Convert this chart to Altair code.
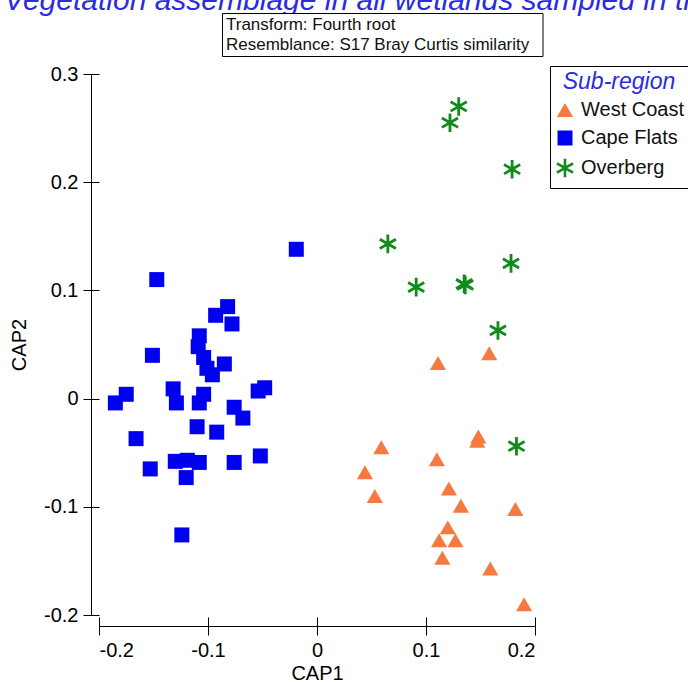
import altair as alt
import pandas as pd

# CAP ordination scores per sub-region
west_coast_cap1 = [0.158, 0.111, 0.148, 0.147, 0.059, 0.110, 0.044, 0.121, 0.053,
                   0.132, 0.182, 0.120, 0.112, 0.127, 0.115, 0.159, 0.190]
west_coast_cap2 = [0.042, 0.033, -0.035, -0.039, -0.045, -0.056, -0.068, -0.083, -0.090,
                   -0.099, -0.102, -0.119, -0.131, -0.131, -0.147, -0.157, -0.190]

cape_flats_cap1 = [-0.019, -0.147, -0.082, -0.093, -0.078, -0.108, -0.109, -0.151, -0.104,
                   -0.085, -0.101, -0.096, -0.132, -0.175, -0.104, -0.048, -0.054, -0.185,
                   -0.129, -0.108, -0.076, -0.068, -0.110, -0.092, -0.166, -0.052, -0.130,
                   -0.119, -0.108, -0.076, -0.153, -0.120, -0.124]
cape_flats_cap2 = [0.138, 0.110, 0.085, 0.077, 0.069, 0.058, 0.048, 0.040, 0.038,
                   0.032, 0.028, 0.022, 0.009, 0.004, 0.004, 0.010, 0.007, -0.004,
                   -0.004, -0.004, -0.008, -0.018, -0.026, -0.031, -0.037, -0.053, -0.058,
                   -0.057, -0.059, -0.059, -0.065, -0.073, -0.126]

overberg_cap1 = [0.130, 0.122, 0.179, 0.065, 0.178, 0.091, 0.135, 0.136, 0.166, 0.183]
overberg_cap2 = [0.270, 0.255, 0.212, 0.143, 0.125, 0.103, 0.106, 0.105, 0.063, -0.044]

groups = ["West Coast", "Cape Flats", "Overberg"]
fills = ["#F57A40", "#0000F0", "#128A1C"]
strokes = ["transparent", "transparent", "#128A1C"]
# six-armed asterisk drawn as three crossing strokes
asterisk = "M0,-1.35L0,1.35M-1.17,-0.675L1.17,0.675M-1.17,0.675L1.17,-0.675"
shapes = ["triangle-up", "square", asterisk]
sizes = [260, 190, 440]

x_ticks = [-0.2, -0.1, 0, 0.1, 0.2]
y_ticks = [-0.2, -0.1, 0, 0.1, 0.2, 0.3]

header = "Vegetation assemblage in all wetlands sampled in the"
info_text = "Transform: Fourth root\nResemblance: S17 Bray Curtis similarity"

rows = []
for name, xs, ys in [("West Coast", west_coast_cap1, west_coast_cap2),
                     ("Cape Flats", cape_flats_cap1, cape_flats_cap2),
                     ("Overberg", overberg_cap1, overberg_cap2)]:
    for a, b in zip(xs, ys):
        rows.append({"group": name, "cap1": a, "cap2": b})
df = pd.DataFrame(rows)

W, H = 436, 541
FONT = "Liberation Sans"
x_scale = alt.Scale(domain=[-0.2, 0.2], nice=False, zero=False)
y_scale = alt.Scale(domain=[-0.2, 0.3], nice=False, zero=False)
tick_label = "datum.value == 0 ? '0' : replace(datum.label, '\u2212', '-')"

legend = alt.Legend(
    title="Sub-region", orient="none", legendX=451, legendY=-8,
    strokeColor="black", fillColor="white", padding=5,
    titleFont=FONT, titleFontSize=23, titleFontStyle="italic",
    titleFontWeight="normal", titleColor="#2B2BE3", titlePadding=6,
    titleAnchor="middle",
    labelFont=FONT, labelFontSize=20, labelColor="#111111", labelOffset=6,
    symbolSize=170, symbolStrokeWidth=2.6, rowPadding=2,
)

points = alt.Chart(df).mark_point(filled=True, opacity=1, strokeWidth=2.8).encode(
    x=alt.X("cap1:Q", scale=x_scale, axis=alt.Axis(
        orient="bottom", title="CAP1", values=x_ticks, offset=11, tickSize=9,
        labelPadding=5, titlePadding=3, labelExpr=tick_label, grid=False)),
    y=alt.Y("cap2:Q", scale=y_scale, axis=alt.Axis(
        orient="left", title="CAP2", values=y_ticks, offset=8, tickSize=8,
        labelPadding=5, titlePadding=14, labelExpr=tick_label, grid=False)),
    color=alt.Color("group:N", scale=alt.Scale(domain=groups, range=fills), legend=legend),
    shape=alt.Shape("group:N", scale=alt.Scale(domain=groups, range=shapes), legend=legend),
    stroke=alt.Stroke("group:N", scale=alt.Scale(domain=groups, range=strokes), legend=legend),
    size=alt.Size("group:N", scale=alt.Scale(domain=groups, range=sizes), legend=None),
)

# inner halves of the crossing tick marks
inner_ticks = alt.Chart(df).mark_point(opacity=0).encode(
    x=alt.X("cap1:Q", scale=x_scale, axis=alt.Axis(
        orient="bottom", title=None, values=x_ticks, offset=2, tickSize=9,
        domain=False, labels=False, grid=False)),
    y=alt.Y("cap2:Q", scale=y_scale, axis=alt.Axis(
        orient="left", title=None, values=y_ticks, offset=0, tickSize=9,
        domain=False, labels=False, grid=False)),
)

one = pd.DataFrame({"k": [0]})

info_box = alt.Chart(one).mark_rect(fill="white", stroke="black", strokeWidth=1).encode(
    x=alt.value(123.5), x2=alt.value(444), y=alt.value(-60.5), y2=alt.value(-17.5))

info = alt.Chart(one).mark_text(
    align="left", baseline="middle", font=FONT, fontSize=17, color="#111111",
    lineBreak="\n", lineHeight=20).encode(
    x=alt.value(127), y=alt.value(-49), text=alt.value(info_text))

title_text = alt.Chart(one).mark_text(
    align="left", baseline="alphabetic", font=FONT, fontSize=30, fontStyle="italic",
    color="#2B2BE3").encode(
    x=alt.value(-95), y=alt.value(-64), text=alt.value(header))

chart = alt.layer(title_text, info_box, info, inner_ticks, points).resolve_axis(
    x="independent", y="independent"
).properties(
    width=W, height=H,
    autosize=alt.AutoSizeParams(type="none"),
    padding={"left": 99, "top": 74, "right": 153, "bottom": 67},
    background="white",
).configure_view(stroke=None).configure_axis(
    labelFont=FONT, titleFont=FONT, labelFontSize=20, titleFontSize=20,
    titleFontWeight="normal", labelColor="black", titleColor="black",
    domainColor="black", tickColor="black", domainWidth=1, tickWidth=1,
)

chart.save("out.html", embed_options={"renderer": "svg", "actions": False})
